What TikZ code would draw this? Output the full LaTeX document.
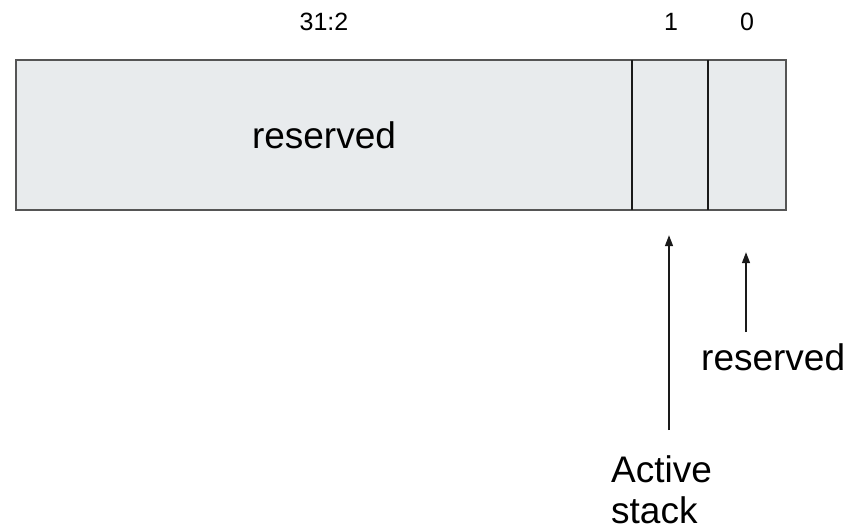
\documentclass[tikz,border=0pt]{standalone}
\usepackage{fontspec}
\setmainfont{Liberation Sans}
\usetikzlibrary{arrows.meta}
\definecolor{fieldfill}{HTML}{E8EBED}
\definecolor{outline}{HTML}{555555}
\definecolor{ink}{HTML}{1A1A1A}
\begin{document}
\begin{tikzpicture}[x=1pt,y=-1pt,
  field/.style={rectangle, fill=fieldfill, inner sep=0pt, minimum height=150pt},
  bitlabel/.style={anchor=base, inner sep=0pt, font=\fontsize{25}{29}\selectfont},
  biglabel/.style={inner sep=0pt, font=\fontsize{37}{41}\selectfont},
  border/.style={draw=outline, line width=1.5pt},
  divider/.style={draw=ink, line width=1.8pt},
  pointer/.style={draw=ink, line width=1.5pt, -{Triangle[length=11pt,width=8pt]}}]
  \useasboundingbox (0,0) rectangle (862,530);

  % register fields: bits 31:2, bit 1, bit 0
  \node[field, minimum width=616pt] (f31) at (324,135) {};
  \node[field, minimum width=76pt]  (f1)  at (670,135) {};
  \node[field, minimum width=78pt]  (f0)  at (747,135) {};
  \draw[border] (f31.north west) rectangle (f0.south east);
  \draw[divider] (f1.north west) -- (f1.south west);
  \draw[divider] (f0.north west) -- (f0.south west);

  % bit numbers
  \node[bitlabel] (b31) at (324,30) {31:2};
  \node[bitlabel] (b1)  at (671,30) {1};
  \node[bitlabel] (b0)  at (747,30) {0};

  % field names (the two-line label sits on the baseline of its last line)
  \node[biglabel, anchor=base] (res) at (324,148) {reserved};
  \node[biglabel, anchor=base west] (resbit) at (701,370) {reserved};
  \node[biglabel, anchor=base west, align=left] (active) at (611,523) {Active\\stack};

  % pointers from the names up to their bits
  \coordinate (t1) at (669,430);
  \coordinate (t0) at (746,332);
  \draw[pointer, shorten >=25pt] (t1) -- (t1 |- f1.south);
  \draw[pointer, shorten >=42pt] (t0) -- (t0 |- f0.south);
\end{tikzpicture}
\end{document}
